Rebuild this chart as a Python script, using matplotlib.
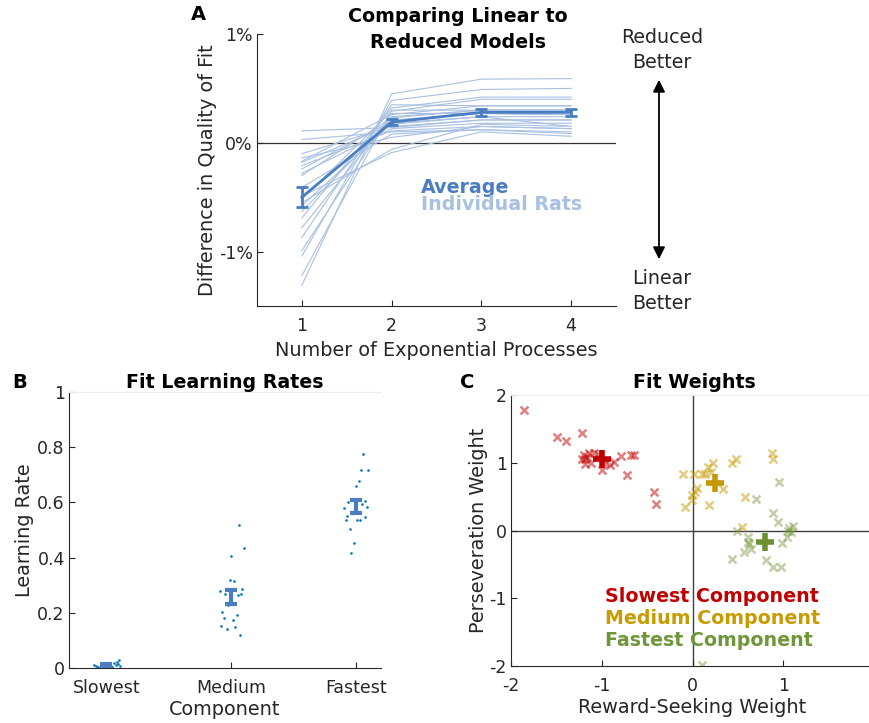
import numpy as np
import matplotlib
matplotlib.use("Agg")
import matplotlib.pyplot as plt

plt.rcParams['font.family'] = ['DejaVu Sans']
plt.rcParams['axes.unicode_minus'] = False

# ---- panel A data (% difference in quality of fit) ----
n_proc = [1, 2, 3, 4]
rat_1 = [0.11, 0.03, -0.10, -0.14, -0.17, -0.18, -0.21, -0.24, -0.28, -0.30, -0.41, -0.49,
         -0.52, -0.55, -0.58, -0.63, -0.69, -0.78, -0.87, -0.99, -1.04, -1.22, -1.31]
rat_2 = [0.14, 0.10, 0.15, 0.05, 0.26, 0.17, 0.11, 0.20, 0.13, 0.23, 0.08, -0.09,
         0.29, -0.06, 0.18, 0.21, 0.32, 0.24, 0.35, 0.27, 0.39, 0.30, 0.45]
rat_3 = [0.21, 0.12, 0.21, 0.15, 0.34, 0.24, 0.15, 0.27, 0.18, 0.30, 0.12, 0.10,
         0.40, 0.17, 0.24, 0.27, 0.42, 0.30, 0.34, 0.27, 0.49, 0.30, 0.585]
rat_4 = [0.21, 0.085, 0.21, 0.13, 0.34, 0.15, 0.13, 0.26, 0.18, 0.30, 0.10, 0.06,
         0.40, 0.15, 0.24, 0.26, 0.42, 0.30, 0.34, 0.26, 0.50, 0.30, 0.59]
avg_fit = [-0.50, 0.19, 0.28, 0.28]
sem_fit = [0.09, 0.03, 0.03, 0.03]

# ---- panel B data (learning rates, jitter offsets) ----
components = ['Slowest', 'Medium', 'Fastest']
slow_off = [-0.096, -0.08, -0.064, -0.04, -0.024, 0.0, 0.016, 0.032, 0.048, 0.064,
            0.08, 0.096, 0.11, 0.099, -0.048, 0.008, 0.04, 0.088, -0.008]
slow_lr = [0.012, 0.006, 0.003, 0.004, 0.008, 0.002, 0.010, 0.015, 0.005, 0.018,
           0.012, 0.016, 0.008, 0.030, 0.001, 0.013, 0.009, 0.020, 0.005]
med_off = [0.059, 0.103, 0.0, -0.011, 0.021, -0.088, 0.088, -0.054, 0.051, 0.078,
           -0.029, -0.072, 0.043, -0.062, 0.011, -0.080, -0.035, 0.030, 0.070]
med_lr = [0.519, 0.434, 0.404, 0.320, 0.317, 0.280, 0.287, 0.269, 0.263, 0.269,
          0.229, 0.202, 0.191, 0.182, 0.175, 0.151, 0.140, 0.147, 0.121]
fast_off = [0.059, 0.040, 0.099, 0.021, 0.003, -0.062, 0.048, 0.072, -0.094, 0.086,
            -0.005, -0.070, 0.075, -0.080, 0.008, 0.029, -0.051, -0.019, -0.043]
fast_lr = [0.775, 0.718, 0.718, 0.678, 0.661, 0.601, 0.595, 0.606, 0.579, 0.583,
           0.561, 0.551, 0.548, 0.537, 0.537, 0.535, 0.504, 0.452, 0.415]
lr_mean = [0.010, 0.257, 0.585]
lr_sem = [0.004, 0.026, 0.022]

# ---- panel C data (weights) ----
slow_rw = [-1.86, -1.49, -1.39, -1.22, -1.20, -1.19, -1.18, -1.14, -1.08, -1.16, -1.12, -1.04,
           -1.00, -0.91, -0.865, -0.79, -0.72, -0.68, -0.645, -0.42, -0.40, -1.22, -0.96]
slow_pw = [1.78, 1.38, 1.32, 1.44, 1.12, 1.05, 0.98, 1.14, 1.15, 1.08, 1.00, 1.13,
           0.89, 0.96, 1.01, 1.10, 0.82, 1.12, 1.12, 0.57, 0.385, 1.06, 1.00]
med_rw = [-0.11, 0.017, 0.138, 0.174, 0.23, 0.43, 0.476, 0.88, 0.89, 0.053, -0.01,
          -0.01, -0.083, 0.18, 0.336, 0.58, 0.54, 0.03, 0.20, 0.10]
med_pw = [0.84, 0.84, 0.84, 0.94, 0.99, 1.00, 1.05, 1.15, 1.05, 0.62, 0.53,
          0.45, 0.35, 0.38, 0.61, 0.49, 0.05, 0.57, 0.86, 0.84]
fast_rw = [0.955, 0.70, 0.89, 0.946, 1.064, 1.108, 1.08, 1.045, 0.99, 0.49, 0.615, 0.615,
           0.65, 0.57, 0.44, 0.81, 0.89, 0.98, 0.108, 1.05, 0.62]
fast_pw = [0.71, 0.47, 0.26, 0.12, 0.03, 0.06, -0.02, -0.10, -0.18, -0.01, -0.10, -0.17,
           -0.28, -0.32, -0.42, -0.43, -0.54, -0.54, -1.985, 0.0, -0.20]
mean_rw = [-1.00, 0.248, 0.80]
mean_pw = [1.06, 0.70, -0.17]

W, H = 870, 723
fig = plt.figure(figsize=(W / 100, H / 100), dpi=100)

def px(x0, y0, x1, y1):
    # pixel box -> figure fraction [left, bottom, width, height]
    return [x0 / W, 1 - y1 / H, (x1 - x0) / W, (y1 - y0) / H]

dark = '#262626'
avg_col = '#4A7EC0'
rat_col = '#A8C0E2'
title_fs = 13.7
label_fs = 13.9

def style(ax):
    for s in ['top', 'right']:
        ax.spines[s].set_visible(False)
    for s in ['left', 'bottom']:
        ax.spines[s].set_color(dark)
        ax.spines[s].set_linewidth(0.8)
    ax.tick_params(direction='in', length=4, width=0.8, color=dark,
                   labelcolor=dark, labelsize=12.5)
    ax.tick_params(axis='x', pad=8)
    ax.tick_params(axis='y', pad=3)

# ---------------- A ----------------
axA = fig.add_axes(px(257, 34, 616, 306))
style(axA)
rats = np.array([rat_1, rat_2, rat_3, rat_4])
for i in range(rats.shape[1]):
    axA.plot(n_proc, rats[:, i], color=rat_col, lw=0.8, zorder=2)
axA.axhline(0, color='#333333', lw=0.9, zorder=1)
axA.errorbar(n_proc, avg_fit, yerr=sem_fit, color=avg_col, lw=2, elinewidth=2,
             capsize=4, capthick=2, zorder=3)
axA.set_xlim(0.5, 4.5)
axA.set_ylim(-1.5, 1)
axA.set_xticks(n_proc)
axA.set_yticks([-1, 0, 1])
axA.set_yticklabels(['-1%', '0%', '1%'])
axA.set_xlabel('Number of Exponential Processes', fontsize=label_fs, color=dark, labelpad=4)
axA.set_ylabel('Difference in Quality of Fit', fontsize=label_fs, color=dark, labelpad=1)
axA.text(2.33, -0.41, 'Average', color=avg_col, fontsize=title_fs, fontweight='bold',
         va='center')
axA.text(2.33, -0.57, 'Individual Rats', color=rat_col, fontsize=title_fs, fontweight='bold',
         va='center')
fig.text(458 / W, 1 - 17 / H, 'Comparing Linear to', ha='center', va='center',
         fontsize=title_fs, fontweight='bold')
fig.text(458 / W, 1 - 42 / H, 'Reduced Models', ha='center', va='center',
         fontsize=title_fs, fontweight='bold')
fig.text(198 / W, 1 - 15 / H, 'A', ha='center', va='center', fontsize=14, fontweight='bold')
fig.text(662 / W, 1 - 50 / H, 'Reduced\nBetter', ha='center', va='center',
         fontsize=13.7, color=dark, linespacing=1.4)
fig.text(662 / W, 1 - 291 / H, 'Linear\nBetter', ha='center', va='center',
         fontsize=13.7, color=dark, linespacing=1.4)
fig.patches.append(matplotlib.patches.FancyArrowPatch(
    (659 / W, 1 - 77 / H), (659 / W, 1 - 262 / H), transform=fig.transFigure,
    arrowstyle='<|-|>', mutation_scale=18, color='black', lw=1.3))

# ---------------- B ----------------
axB = fig.add_axes(px(69, 392, 381, 668))
style(axB)
axB.spines['top'].set_visible(True)
axB.spines['top'].set_color('#ebebeb')
dot_col = '#0072BD'
for k, (off, vals) in enumerate([(slow_off, slow_lr), (med_off, med_lr), (fast_off, fast_lr)]):
    axB.scatter(np.array(off) + k + 1, vals, s=3.5, color=dot_col, lw=0, zorder=2)
axB.errorbar([1, 2, 3], lr_mean, yerr=lr_sem, fmt='none', ecolor=avg_col,
             elinewidth=3, capsize=4, capthick=3, zorder=3)
axB.set_xlim(0.7, 3.2)
axB.set_ylim(0, 1)
axB.set_xticks([1, 2, 3])
axB.set_xticklabels(components)
axB.set_yticks([0, 0.2, 0.4, 0.6, 0.8, 1])
axB.set_yticklabels(['0', '0.2', '0.4', '0.6', '0.8', '1'])
axB.set_xlabel('Component', fontsize=label_fs, color=dark, labelpad=2)
axB.set_ylabel('Learning Rate', fontsize=label_fs, color=dark, labelpad=2)
fig.text(225 / W, 1 - 383 / H, 'Fit Learning Rates', ha='center', va='center',
         fontsize=title_fs, fontweight='bold')
fig.text(20 / W, 1 - 383 / H, 'B', ha='center', va='center', fontsize=14, fontweight='bold')

# ---------------- C ----------------
axC = fig.add_axes(px(511, 395, 874, 666))
style(axC)
axC.spines['top'].set_visible(True)
axC.spines['top'].set_color('#ebebeb')
axC.axhline(0, color='#404040', lw=1, zorder=1)
axC.axvline(0, color='#404040', lw=1, zorder=1)
groups = [(slow_rw, slow_pw, '#C00000', 0.5),
          (med_rw, med_pw, '#C89B00', 0.5),
          (fast_rw, fast_pw, '#77933C', 0.45)]
mean_cols = ['#C00000', '#C39800', '#6E9030']
for (xs, ys, c, a) in groups:
    axC.scatter(xs, ys, marker='x', s=32, color=c, alpha=a, lw=1.8, zorder=2)
for k in range(3):
    axC.plot(mean_rw[k], mean_pw[k], marker='+', ms=13, mew=4, color=mean_cols[k], zorder=4)
axC.set_xlim(-2, 2)
axC.set_ylim(-2, 2)
axC.set_xticks([-2, -1, 0, 1])
axC.set_yticks([-2, -1, 0, 1, 2])
axC.set_xlabel('Reward-Seeking Weight', fontsize=label_fs, color=dark, labelpad=2)
axC.set_ylabel('Perseveration Weight', fontsize=label_fs, color=dark, labelpad=1)
axC.text(-0.965, -0.98, 'Slowest Component', color='#C00000', fontsize=title_fs,
         fontweight='bold', va='center')
axC.text(-0.965, -1.30, 'Medium Component', color='#C89B00', fontsize=title_fs,
         fontweight='bold', va='center')
axC.text(-0.965, -1.63, 'Fastest Component', color='#70963A', fontsize=title_fs,
         fontweight='bold', va='center')
fig.text(694 / W, 1 - 383 / H, 'Fit Weights', ha='center', va='center',
         fontsize=title_fs, fontweight='bold')
fig.text(467 / W, 1 - 383 / H, 'C', ha='center', va='center', fontsize=14, fontweight='bold')

fig.savefig('out.png', dpi=100)
